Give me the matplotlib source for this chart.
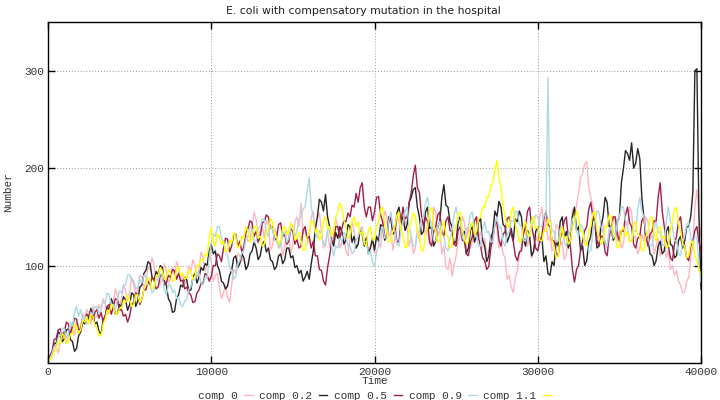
import matplotlib
matplotlib.use("Agg")
import matplotlib.pyplot as plt
import numpy as np

# time axis: one reading every 125 time units, starting at 0
time_step = 125

labels = ["comp 0", "comp 0.2", "comp 0.5", "comp 0.9", "comp 1.1"]
colors = ["#ffb6c1", "#262626", "#a21e4c", "#add8e6", "#ffff00"]

comp_0 = [
    0, 5, 8, 18, 16, 10, 22, 32, 30, 20, 27, 38, 36, 28, 42, 33, 38, 50, 46, 55,
    50, 40, 58, 46, 47, 60, 55, 66, 60, 50, 52, 64, 63, 76, 70, 58, 66, 80, 74, 64,
    72, 88, 80, 70, 76, 90, 88, 76, 84, 98, 96, 108, 100, 86, 92, 80, 88, 102, 95, 82,
    86, 98, 90, 104, 98, 84, 92, 80, 85, 100, 94, 106, 100, 88, 96, 114, 108, 94, 102, 115,
    104, 84, 90, 92, 78, 66, 72, 80, 68, 62, 80, 96, 92, 112, 110, 104, 118, 130, 125, 126,
    140, 155, 147, 128, 135, 140, 128, 146, 142, 116, 120, 138, 132, 118, 126, 110, 118, 136, 130, 112,
    122, 145, 150, 140, 164, 132, 140, 122, 130, 150, 155, 132, 148, 154, 136, 118, 125, 136, 118, 128,
    130, 148, 140, 118, 124, 130, 115, 110, 128, 146, 135, 118, 122, 138, 140, 122, 130, 114, 120, 124,
    112, 130, 125, 118, 140, 156, 150, 130, 135, 116, 128, 150, 145, 136, 160, 145, 138, 120, 130, 112,
    118, 138, 125, 148, 150, 130, 140, 122, 132, 160, 155, 130, 138, 112, 120, 98, 96, 108, 89, 100,
    110, 126, 130, 150, 145, 128, 140, 118, 125, 145, 150, 128, 135, 118, 128, 110, 115, 132, 122, 148,
    140, 118, 125, 112, 108, 86, 90, 78, 72, 88, 95, 112, 120, 136, 138, 120, 130, 108, 115, 130,
    125, 150, 160, 135, 148, 126, 130, 115, 118, 142, 140, 120, 125, 106, 112, 130, 135, 158, 150, 162,
    175, 190, 195, 204, 207, 180, 170, 162, 150, 130, 128, 146, 140, 122, 118, 138, 130, 150, 145, 125,
    135, 118, 122, 146, 140, 160, 155, 128, 130, 112, 118, 132, 125, 150, 145, 126, 132, 112, 120, 128,
    110, 130, 128, 108, 115, 96, 100, 90, 95, 84, 80, 72, 73, 84, 88, 110, 120, 160, 178, 150,
    130,
]

comp_02 = [
    0, 6, 10, 20, 20, 32, 30, 22, 25, 34, 35, 24, 22, 12, 15, 28, 32, 42, 40, 50,
    45, 56, 50, 40, 42, 32, 30, 44, 48, 58, 55, 66, 60, 50, 50, 60, 58, 68, 65, 54,
    60, 72, 70, 58, 64, 78, 80, 92, 95, 104, 102, 88, 85, 94, 90, 100, 98, 84, 80, 66,
    62, 52, 53, 66, 70, 80, 78, 88, 85, 74, 75, 88, 92, 82, 88, 98, 95, 102, 100, 115,
    122, 112, 115, 100, 95, 84, 82, 76, 79, 90, 95, 108, 110, 98, 102, 112, 108, 96, 100, 112,
    115, 124, 118, 106, 110, 122, 125, 114, 118, 106, 104, 96, 99, 110, 112, 102, 106, 118, 118, 108,
    110, 98, 100, 92, 95, 84, 88, 94, 86, 102, 115, 138, 150, 168, 165, 156, 173, 150, 140, 126,
    120, 134, 128, 140, 135, 122, 126, 142, 140, 124, 130, 118, 122, 138, 132, 120, 128, 112, 118, 128,
    116, 130, 125, 142, 140, 126, 130, 150, 148, 132, 135, 154, 160, 144, 150, 136, 142, 165, 170, 178,
    180, 160, 150, 132, 135, 155, 160, 138, 140, 120, 125, 140, 145, 170, 183, 162, 160, 145, 140, 122,
    125, 145, 150, 130, 135, 112, 118, 136, 140, 124, 130, 145, 148, 126, 120, 104, 110, 128, 135, 156,
    150, 166, 160, 142, 140, 124, 130, 138, 125, 148, 145, 156, 150, 128, 120, 136, 130, 110, 115, 135,
    140, 124, 130, 104, 110, 92, 90, 104, 100, 125, 120, 145, 150, 128, 135, 118, 125, 150, 160, 136,
    140, 115, 120, 100, 105, 124, 130, 150, 145, 118, 120, 140, 150, 170, 165, 140, 140, 126, 130, 145,
    150, 185, 200, 218, 215, 208, 226, 200, 205, 220, 210, 170, 150, 128, 130, 112, 110, 100, 105, 120,
    125, 112, 115, 135, 140, 122, 120, 108, 110, 126, 130, 118, 125, 140, 140, 151, 175, 300, 302, 150,
    76,
]

comp_05 = [
    0, 8, 12, 24, 25, 34, 35, 26, 32, 42, 40, 30, 38, 46, 45, 34, 35, 44, 42, 50,
    48, 54, 45, 52, 55, 46, 52, 42, 48, 58, 60, 50, 58, 66, 65, 54, 55, 48, 50, 42,
    48, 60, 62, 72, 70, 60, 65, 76, 75, 84, 80, 88, 85, 76, 78, 90, 90, 80, 82, 90,
    88, 96, 95, 86, 92, 84, 85, 76, 78, 72, 70, 62, 63, 72, 75, 82, 82, 92, 90, 84,
    89, 100, 100, 112, 110, 104, 118, 128, 127, 114, 120, 132, 132, 120, 125, 114, 120, 134, 138, 146,
    144, 130, 135, 124, 130, 144, 145, 152, 150, 138, 140, 126, 128, 142, 144, 130, 132, 122, 125, 138,
    135, 122, 127, 118, 120, 136, 140, 128, 130, 118, 125, 110, 110, 96, 95, 84, 80, 98, 110, 124,
    125, 140, 140, 128, 138, 146, 145, 154, 150, 162, 160, 174, 165, 180, 185, 160, 150, 160, 160, 146,
    155, 170, 171, 152, 145, 130, 130, 145, 150, 138, 140, 124, 125, 145, 160, 148, 150, 165, 175, 192,
    203, 180, 175, 152, 140, 150, 145, 124, 120, 135, 140, 152, 155, 134, 130, 146, 150, 136, 135, 122,
    120, 136, 140, 126, 125, 112, 110, 124, 130, 146, 150, 128, 120, 108, 105, 96, 99, 118, 130, 142,
    145, 126, 120, 132, 135, 148, 150, 132, 125, 110, 105, 114, 115, 132, 140, 156, 160, 140, 130, 118,
    115, 126, 130, 148, 155, 142, 140, 126, 125, 112, 110, 128, 135, 146, 150, 128, 120, 96, 83, 96,
    100, 116, 125, 136, 140, 158, 165, 150, 145, 126, 120, 130, 130, 114, 110, 130, 140, 150, 150, 132,
    125, 136, 135, 152, 160, 144, 140, 122, 118, 128, 130, 146, 150, 130, 120, 132, 135, 146, 145, 170,
    185, 156, 140, 126, 120, 108, 105, 122, 130, 146, 150, 130, 120, 108, 105, 120, 125, 136, 140, 124,
    115,
]

comp_09 = [
    0, 5, 10, 17, 18, 26, 28, 36, 35, 26, 30, 42, 38, 52, 58, 48, 55, 44, 48, 40,
    42, 52, 50, 58, 58, 50, 55, 63, 62, 72, 70, 60, 60, 56, 65, 74, 72, 80, 80, 90,
    91, 84, 85, 76, 78, 86, 82, 90, 88, 80, 80, 72, 75, 86, 85, 92, 90, 76, 70, 80,
    80, 72, 75, 66, 68, 60, 58, 64, 65, 76, 78, 86, 85, 94, 92, 82, 80, 88, 88, 108,
    123, 132, 130, 140, 140, 128, 125, 114, 110, 98, 95, 86, 89, 102, 105, 114, 115, 128, 130, 140,
    137, 124, 125, 138, 140, 148, 147, 134, 130, 140, 138, 126, 125, 118, 120, 132, 135, 124, 128, 138,
    140, 130, 135, 148, 150, 158, 160, 176, 190, 160, 150, 134, 128, 136, 133, 122, 120, 136, 140, 120,
    110, 120, 118, 128, 125, 134, 130, 120, 120, 112, 115, 126, 130, 138, 135, 124, 125, 112, 115, 104,
    99, 114, 120, 134, 140, 128, 130, 146, 155, 140, 135, 122, 120, 138, 145, 156, 160, 140, 130, 120,
    120, 132, 135, 148, 150, 164, 170, 150, 140, 126, 125, 140, 145, 132, 130, 118, 115, 128, 135, 152,
    160, 148, 145, 130, 125, 138, 140, 152, 155, 136, 130, 120, 120, 138, 145, 134, 135, 124, 125, 142,
    150, 138, 140, 124, 120, 132, 135, 146, 145, 156, 155, 142, 140, 126, 125, 134, 130, 142, 145, 152,
    150, 140, 140, 152, 150, 293, 150, 136, 135, 124, 125, 138, 140, 124, 120, 132, 135, 148, 150, 136,
    130, 142, 140, 126, 125, 114, 115, 135, 145, 156, 155, 140, 135, 124, 120, 134, 140, 128, 130, 145,
    150, 160, 160, 146, 140, 126, 125, 136, 135, 158, 170, 156, 150, 134, 130, 120, 120, 138, 145, 134,
    135, 122, 120, 146, 160, 146, 140, 126, 125, 112, 110, 124, 130, 142, 145, 128, 120, 130, 130, 100,
    83,
]

comp_11 = [
    0, 4, 6, 12, 14, 22, 20, 30, 28, 20, 22, 30, 30, 40, 38, 30, 34, 44, 42, 48,
    40, 50, 48, 38, 36, 28, 28, 40, 45, 54, 52, 60, 58, 50, 50, 56, 56, 64, 62, 70,
    65, 58, 60, 70, 70, 62, 65, 76, 80, 88, 85, 76, 78, 90, 90, 98, 95, 86, 88, 96,
    93, 84, 85, 96, 99, 90, 92, 86, 88, 96, 95, 86, 89, 100, 100, 106, 105, 112, 110, 128,
    139, 124, 120, 132, 130, 122, 125, 114, 115, 126, 123, 134, 130, 118, 120, 130, 128, 140, 135, 124,
    127, 140, 140, 128, 130, 120, 122, 136, 137, 148, 145, 132, 130, 122, 125, 138, 140, 132, 135, 144,
    140, 126, 128, 134, 125, 116, 116, 130, 135, 146, 145, 134, 137, 126, 130, 146, 150, 138, 140, 130,
    135, 150, 155, 164, 161, 146, 140, 128, 130, 146, 150, 140, 145, 132, 135, 122, 120, 136, 140, 126,
    127, 140, 145, 158, 160, 142, 135, 124, 125, 136, 140, 152, 155, 136, 130, 118, 120, 138, 145, 154,
    150, 134, 130, 116, 115, 132, 140, 156, 160, 142, 135, 124, 125, 140, 145, 132, 130, 118, 120, 136,
    140, 154, 155, 136, 130, 122, 125, 140, 145, 132, 135, 148, 150, 160, 160, 170, 170, 182, 185, 198,
    208, 190, 180, 160, 150, 140, 140, 156, 160, 142, 135, 124, 125, 140, 145, 132, 130, 146, 150, 138,
    140, 126, 125, 136, 135, 148, 145, 126, 120, 108, 110, 130, 140, 128, 130, 122, 125, 140, 145, 156,
    150, 136, 135, 122, 120, 136, 140, 154, 155, 136, 130, 122, 125, 140, 140, 152, 150, 134, 130, 118,
    120, 136, 140, 130, 135, 124, 125, 142, 145, 132, 130, 116, 115, 130, 135, 148, 150, 132, 125, 138,
    140, 128, 130, 118, 120, 138, 145, 158, 160, 142, 135, 122, 120, 108, 110, 124, 125, 110, 105, 96,
    90,
]

x_ticks = [0, 10000, 20000, 30000, 40000]
y_ticks = [100, 200, 300]

series = [comp_0, comp_02, comp_05, comp_09, comp_11]

mono = ["Liberation Mono", "DejaVu Sans Mono"]

fig = plt.figure(figsize=(7.2, 4.0), dpi=100)
ax = fig.add_axes([48 / 720, 1 - 363 / 400, (701 - 48) / 720, (363 - 22) / 400])

for vals, lab, col in zip(series, labels, colors):
    t = time_step * np.arange(len(vals))
    ax.plot(t, vals, color=col, lw=1.0, label=lab)

ax.set_xlim(0, 40000)
ax.set_ylim(0, 350)
ax.set_xticks(x_ticks)
ax.set_yticks(y_ticks)
ax.set_xticklabels([str(v) for v in x_ticks])
ax.set_yticklabels([str(v) for v in y_ticks])
ax.grid(True, color="#9a9a9a", linestyle=(0, (1, 2)), linewidth=0.7)
ax.tick_params(direction="in", top=True, right=True, length=5, width=1,
               labelsize=8, labelcolor="#333333", pad=3)
for lbl in ax.get_xticklabels() + ax.get_yticklabels():
    lbl.set_family(mono)
for s in ax.spines.values():
    s.set_linewidth(1.0)
    s.set_color("#000000")

ax.set_xlabel("Time", family=mono, fontsize=8, color="#333333", labelpad=-1)
ax.set_ylabel("Number", family=mono, fontsize=8, color="#333333", labelpad=8)
ax.set_title("E. coli with compensatory mutation in the hospital",
             fontsize=7.8, family="DejaVu Sans", color="#222222", pad=6, x=0.483)

leg = ax.legend(loc="upper center", bbox_to_anchor=(0.5, -0.068), ncol=5,
                frameon=False, markerfirst=False, handlelength=0.75,
                handletextpad=0.6, columnspacing=0.6, borderaxespad=0,
                prop={"family": mono, "size": 8})
for txt in leg.get_texts():
    txt.set_color("#333333")
for h in leg.get_lines():
    h.set_linewidth(1.0)

fig.savefig("out.png", dpi=100)
